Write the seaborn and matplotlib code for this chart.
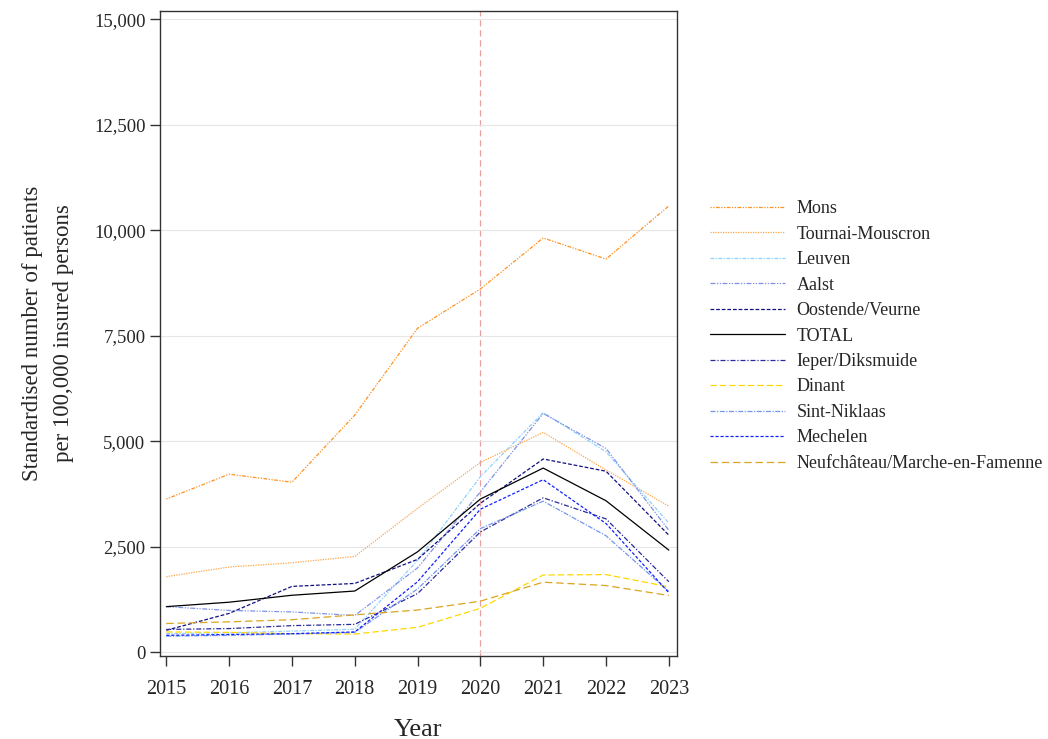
import matplotlib
matplotlib.use("Agg")
import matplotlib.pyplot as plt
import seaborn as sns
import pandas as pd
from matplotlib.ticker import FuncFormatter, MultipleLocator

years = [2015, 2016, 2017, 2018, 2019, 2020, 2021, 2022, 2023]

regions = ["Mons", "Tournai-Mouscron", "Leuven", "Aalst", "Oostende/Veurne", "TOTAL",
           "Ieper/Diksmuide", "Dinant", "Sint-Niklaas", "Mechelen",
           "Neufchâteau/Marche-en-Famenne"]

mons = [3630, 4220, 4030, 5620, 7680, 8610, 9820, 9320, 10580]
tournai = [1790, 2020, 2120, 2270, 3410, 4500, 5210, 4320, 3460]
leuven = [440, 460, 500, 545, 2180, 4160, 5680, 4750, 3060]
aalst = [1080, 990, 955, 870, 2000, 3800, 5660, 4830, 2890]
oostende = [520, 920, 1560, 1630, 2200, 3530, 4580, 4290, 2775]
total = [1080, 1185, 1350, 1450, 2380, 3630, 4365, 3590, 2420]
ieper = [540, 560, 630, 660, 1390, 2850, 3660, 3160, 1670]
dinant = [480, 470, 440, 430, 590, 1040, 1830, 1840, 1550]
sintniklaas = [380, 400, 430, 470, 1500, 2930, 3580, 2760, 1440]
mechelen = [400, 420, 440, 480, 1670, 3390, 4090, 3050, 1410]
neufchateau = [680, 720, 770, 885, 1000, 1210, 1660, 1580, 1345]

series = [mons, tournai, leuven, aalst, oostende, total, ieper, dinant,
          sintniklaas, mechelen, neufchateau]

colors = ["#ff9020", "#ffa54a", "#8fd0fa", "#7f92e6", "#101080", "#000000",
          "#2a2a9a", "#ffd700", "#7396ee", "#1020ff", "#daa520"]
dashes = [(1, 1.2, 1, 1.2, 3, 1.2), (1, 1), (3, 1.2, 1, 1.2), (4, 1.2, 1, 1.2, 1, 1.2),
          (3, 1.5), "", (4, 1.5, 1, 1.5), (5, 2.5), (4, 1.2, 1, 1.2), (2.5, 1.5), (6, 3)]

rows = []
for r, vals in zip(regions, series):
    for y, v in zip(years, vals):
        rows.append({"Year": y, "Value": v, "Region": r})
df = pd.DataFrame(rows)

sns.set_style("white")
plt.rcParams["font.family"] = ["Liberation Serif", "DejaVu Serif"]

fig = plt.figure(figsize=(10.48, 7.39), dpi=100)
ax = fig.add_axes([160 / 1048, 1 - 656 / 739, (677 - 160) / 1048, (656 - 11) / 739])

sns.lineplot(data=df, x="Year", y="Value", hue="Region", style="Region",
             hue_order=regions, style_order=regions,
             palette=dict(zip(regions, colors)), dashes=dict(zip(regions, dashes)),
             linewidth=0.9, ax=ax, legend=True)

ax.axvline(2020, color="#e8a0a0", linestyle=(0, (5, 3)), linewidth=0.9, zorder=0)

ax.set_xlim(2014.9, 2023.13)
ax.set_ylim(-90, 15200)
ax.yaxis.set_major_locator(MultipleLocator(2500))
ax.yaxis.set_major_formatter(FuncFormatter(lambda v, p: f"{int(v):,}"))
ax.set_xticks(years)
ax.grid(axis="y", color="#e6e6e6", linewidth=0.8)
ax.grid(axis="x", visible=False)
for s in ax.spines.values():
    s.set_color("#333333")
    s.set_linewidth(1.0)
ax.tick_params(axis="both", which="major", direction="out", length=7, width=1,
               color="#333333", bottom=True, left=True)
ax.tick_params(axis="y", labelsize=13.5, pad=3.5)
ax.tick_params(axis="x", labelsize=14.5, pad=10.5)
ax.set_xlabel("Year", fontsize=19)
ax.set_ylabel("Standardised number of patients\nper 100,000 insured persons", fontsize=16.5,
              linespacing=1.6)
ax.xaxis.set_label_coords((418 - 160) / 517, (656 - 719) / 645)
ax.yaxis.set_label_coords((74 - 160) / 517, (656 - 333) / 645)

handles, labels = ax.get_legend_handles_labels()
ax.get_legend().remove()
fig.legend(handles, labels, loc="center left", bbox_to_anchor=(701 / 1048, 1 - 336 / 739),
           frameon=False, fontsize=13.0, handlelength=4.15, handletextpad=0.65,
           labelspacing=0.47, borderpad=0)

fig.savefig("out.png", dpi=100)
